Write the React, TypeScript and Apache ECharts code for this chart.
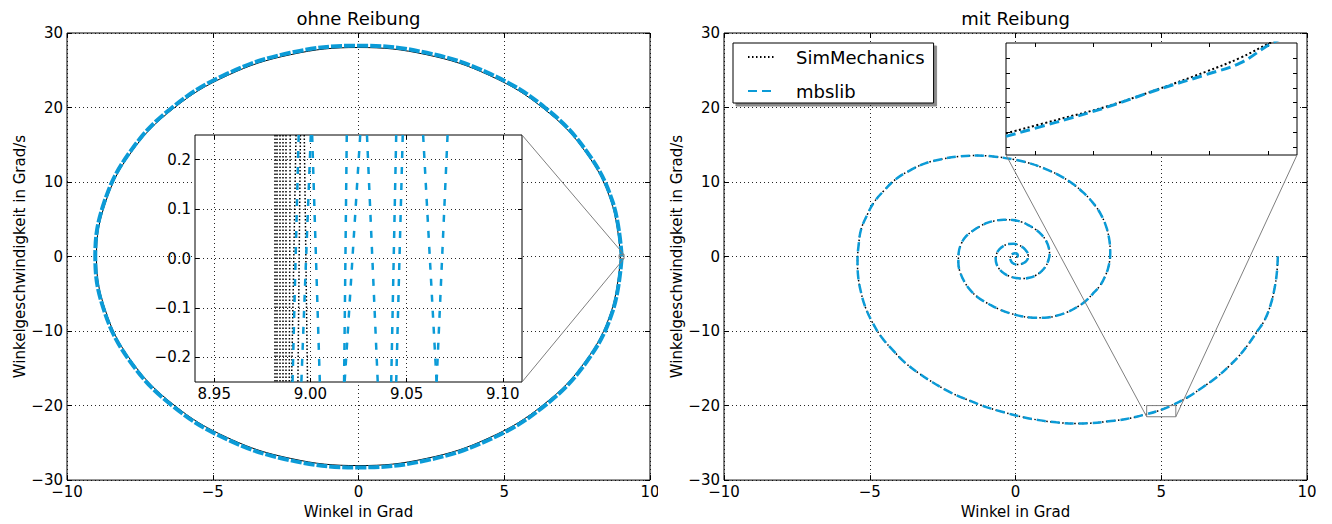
import React, { useEffect, useRef } from "react";
import * as echarts from "echarts";

const FONT = "'DejaVu Sans', sans-serif";
const BLUE = "#0b9bd7";
const GRAY = "#7f7f7f";

const titles = ["ohne Reibung", "mit Reibung"];
const xAxisName = "Winkel in Grad";
const yAxisName = "Winkelgeschwindigkeit in Grad/s";
const seriesNames = ["SimMechanics", "mbslib"];

// main axes
const mainX = { min: -10, max: 10, interval: 5 };
const mainY = { min: -30, max: 30, interval: 10 };

// left: ellipse (ohne Reibung)
const ellipseSim: number[][] = [
  [8.99, 0], [8.68, 7.26], [7.79, 14.03], [6.36, 19.83], [4.5, 24.29], [2.33, 27.09],
  [0, 28.05], [-2.33, 27.09], [-4.5, 24.29], [-6.36, 19.83], [-7.79, 14.03], [-8.68, 7.26],
  [-8.99, 0], [-8.68, -7.26], [-7.79, -14.03], [-6.36, -19.83], [-4.5, -24.29], [-2.33, -27.09],
  [0, -28.05], [2.33, -27.09], [4.5, -24.29], [6.36, -19.83], [7.79, -14.03], [8.68, -7.26],
  [8.99, 0],
];
const ellipseMbs: number[][] = [
  [9.03, 0], [8.72, 7.32], [7.82, 14.15], [6.39, 20.01], [4.52, 24.51], [2.34, 27.34],
  [0, 28.3], [-2.34, 27.34], [-4.52, 24.51], [-6.39, 20.01], [-7.82, 14.15], [-8.72, 7.32],
  [-9.03, 0], [-8.72, -7.32], [-7.82, -14.15], [-6.39, -20.01], [-4.52, -24.51], [-2.34, -27.34],
  [0, -28.3], [2.34, -27.34], [4.52, -24.51], [6.39, -20.01], [7.82, -14.15], [8.72, -7.32],
  [9.03, 0],
];

// right: damped spiral (mit Reibung)
const spiral: number[][] = [
  [9.0, 0], [8.97, -2], [8.9, -4], [8.75, -6.5], [8.55, -8.5], [8.3, -10], [8.0, -11.7],
  [7.7, -13.2], [7.3, -14.8], [6.9, -16.2], [6.4, -17.6], [5.9, -18.9], [5.4, -19.9],
  [4.9, -20.7], [4.4, -21.25], [3.8, -21.8], [3.2, -22.1], [2.6, -22.35], [2.0, -22.4],
  [1.4, -22.25], [0.8, -21.95], [0.2, -21.5], [-0.4, -20.9], [-1.0, -20.2], [-1.6, -19.3],
  [-2.2, -18.3], [-2.75, -17.1], [-3.3, -15.7], [-3.8, -14.2], [-4.2, -12.6], [-4.6, -10.8],
  [-4.9, -8.9], [-5.15, -6.8], [-5.3, -4.8], [-5.4, -2.6], [-5.42, -0.5], [-5.38, 1.6],
  [-5.3, 3.6], [-5.1, 5.5], [-4.85, 7.3], [-4.5, 8.9], [-4.1, 10.4], [-3.6, 11.6],
  [-3.1, 12.5], [-2.5, 13.1], [-1.9, 13.45], [-1.3, 13.55], [-0.7, 13.4], [-0.1, 13.05],
  [0.5, 12.5], [1.0, 11.8], [1.5, 10.9], [1.95, 9.8], [2.35, 8.5], [2.7, 7.0],
  [2.95, 5.5], [3.12, 3.9], [3.22, 2.2], [3.25, 0.5], [3.2, -1.2], [3.08, -2.6],
  [2.9, -3.9], [2.65, -5.0], [2.4, -6.0], [2.1, -6.8], [1.75, -7.5], [1.4, -7.95],
  [1.0, -8.2], [0.6, -8.2], [0.2, -8.0], [-0.2, -7.6], [-0.55, -7.1], [-0.9, -6.4],
  [-1.25, -5.6], [-1.55, -4.5], [-1.75, -3.4], [-1.9, -2.1], [-1.96, -0.8], [-1.95, 0.5],
  [-1.85, 1.8], [-1.7, 2.7], [-1.45, 3.5], [-1.2, 4.1], [-0.95, 4.55], [-0.7, 4.8],
  [-0.4, 4.95], [-0.1, 4.9], [0.2, 4.65], [0.45, 4.2], [0.7, 3.6], [0.9, 2.9],
  [1.05, 2.1], [1.14, 1.2], [1.17, 0.3], [1.12, -0.6], [1.02, -1.4], [0.87, -2.05],
  [0.68, -2.55], [0.47, -2.85], [0.25, -2.95], [0.02, -2.88], [-0.2, -2.65], [-0.4, -2.25],
  [-0.55, -1.7], [-0.65, -1.0], [-0.68, -0.3], [-0.65, 0.35], [-0.56, 0.95], [-0.42, 1.4],
  [-0.25, 1.68], [-0.07, 1.72], [0.1, 1.55], [0.26, 1.2], [0.37, 0.75], [0.43, 0.25],
  [0.42, -0.25], [0.36, -0.65], [0.25, -0.92], [0.12, -1.06], [0.0, -1.05], [-0.1, -0.88],
  [-0.15, -0.62], [-0.18, -0.25], [-0.16, 0.15], [-0.1, 0.35], [-0.02, 0.45], [0.06, 0.35],
  [0.08, 0.12], [0.04, -0.05], [0.0, 0.0],
];

// left inset: zoom near x = 9, y = 0
const leftZoomX = [8.94, 9.11];
const leftZoomY = [-0.25, 0.25];
const leftInsetXTicks = [8.95, 9.0, 9.05, 9.1];
const leftInsetYTicks = [-0.2, -0.1, 0, 0.1, 0.2];
const insetSimTop = [8.9813, 8.9827, 8.9841, 8.9857, 8.9872, 8.9895, 8.9925, 8.9948, 8.9968];
const insetSimBottom = [8.9813, 8.9827, 8.9841, 8.9857, 8.9872, 8.9890, 8.9902, 8.9935, 8.9985];
const insetMbsTop = [8.9939, 9.0009, 9.0002, 9.0189, 9.0259, 9.0294, 9.0446, 9.048, 9.0586, 9.0713];
const insetMbsBottom = [8.9907, 9.0049, 8.9953, 9.0175, 9.0178, 9.035, 9.042, 9.0446, 9.0656, 9.0656];

// right inset: zoom near x = 5, y = -21
const rightZoomX = [4.5, 5.5];
const rightZoomY = [-21.5, -20.0];
const rightInsetXTicks = [4.6, 4.8, 5.0, 5.2, 5.4];
const rightInsetYTicks = [-21.4, -21.2, -21.0, -20.8, -20.6, -20.4, -20.2];
const rightInsetSim: number[][] = [
  [4.5, -21.21], [4.674, -21.03], [4.846, -20.85], [5.018, -20.625], [5.19, -20.38],
  [5.304, -20.2], [5.407, -20.0], [5.5, -19.84],
];
const rightInsetMbs: number[][] = [
  [4.5, -21.25], [4.674, -21.06], [4.846, -20.86], [5.018, -20.63], [5.19, -20.42],
  [5.304, -20.27], [5.419, -19.99], [5.5, -19.87],
];

const fmt = (v: number, d: number) => (v < -1e-9 ? "\u2212" : "") + Math.abs(v).toFixed(d);

const labelStyle = { color: "#000", fontSize: 15, fontFamily: FONT };
const splitStyle = { show: true, lineStyle: { color: "#000", width: 1, type: [1, 3], opacity: 0.85 } };
const tick = (length: number, customValues?: number[]) => ({
  show: true, inside: true, length, lineStyle: { color: "#000", width: 1 },
  ...(customValues ? { customValues } : {}),
});

function makeAxes(
  dir: "x" | "y", gridIndex: number, min: number, max: number,
  opts: { interval?: number; custom?: number[]; labels: boolean; dec: number; split: boolean; name?: string; nameGap?: number; z?: number; tickLen: number }
) {
  const base: any = { type: "value", gridIndex, min, max, z: opts.z ?? 0 };
  if (opts.interval) base.interval = opts.interval;
  const main: any = {
    ...base,
    position: dir === "x" ? "bottom" : "left",
    axisLine: { show: false, onZero: false },
    axisTick: tick(opts.tickLen, opts.custom),
    axisLabel: opts.labels
      ? { ...labelStyle, margin: 4, showMinLabel: true, showMaxLabel: true, hideOverlap: false,
          formatter: (v: number) => fmt(v, opts.dec), ...(opts.custom ? { customValues: opts.custom } : {}) }
      : { show: false },
    splitLine: opts.split ? splitStyle : { show: false },
  };
  if (opts.name) {
    main.name = opts.name;
    main.nameLocation = "middle";
    main.nameGap = opts.nameGap;
    main.nameTextStyle = { ...labelStyle };
  }
  const mirror: any = {
    ...base,
    position: dir === "x" ? "top" : "right",
    axisLine: { show: false, onZero: false },
    axisTick: tick(opts.tickLen, opts.custom),
    axisLabel: { show: false },
    splitLine: { show: false },
  };
  return [main, mirror];
}

export default function App() {
  const ref = useRef<HTMLDivElement>(null);
  useEffect(() => {
    document.body.style.margin = "0";
    if (!ref.current) return;
    const chart = echarts.init(ref.current, undefined, { renderer: "svg" });

    const xAxis = [
      ...makeAxes("x", 0, mainX.min, mainX.max, { interval: mainX.interval, labels: true, dec: 0, split: true, name: xAxisName, nameGap: 22, tickLen: 5 }),
      ...makeAxes("x", 1, mainX.min, mainX.max, { interval: mainX.interval, labels: true, dec: 0, split: true, name: xAxisName, nameGap: 22, tickLen: 5 }),
      ...makeAxes("x", 2, leftZoomX[0], leftZoomX[1], { custom: leftInsetXTicks, labels: true, dec: 2, split: true, z: 6, tickLen: 4 }),
      ...makeAxes("x", 3, rightZoomX[0], rightZoomX[1], { custom: rightInsetXTicks, labels: false, dec: 1, split: false, z: 6, tickLen: 4 }),
    ];
    const yAxis = [
      ...makeAxes("y", 0, mainY.min, mainY.max, { interval: mainY.interval, labels: true, dec: 0, split: true, name: yAxisName, nameGap: 40, tickLen: 5 }),
      ...makeAxes("y", 1, mainY.min, mainY.max, { interval: mainY.interval, labels: true, dec: 0, split: true, name: yAxisName, nameGap: 40, tickLen: 5 }),
      ...makeAxes("y", 2, leftZoomY[0], leftZoomY[1], { custom: leftInsetYTicks, labels: true, dec: 1, split: true, z: 6, tickLen: 4 }),
      ...makeAxes("y", 3, rightZoomY[0], rightZoomY[1], { custom: rightInsetYTicks, labels: false, dec: 1, split: false, z: 6, tickLen: 4 }),
    ];

    const simLine = (width: number, dash: number[]) => ({ color: "#000", width, type: dash });
    const mbsLine = (width: number, dash: number[]) => ({ color: BLUE, width, type: dash });
    const lineSeries = (name: string, xi: number, data: number[][], color: string, lineStyle: any, z: number) => ({
      name, type: "line", xAxisIndex: xi, yAxisIndex: xi, data, smooth: 0.4, symbol: "none", showSymbol: false,
      color, itemStyle: { color }, lineStyle, z, silent: true, clip: true,
    });
    const segs = (tops: number[], bottoms: number[]) =>
      tops.map((t, i) => ({ coords: [[t, leftZoomY[1]], [bottoms[i], leftZoomY[0]]] }));

    const series: any[] = [
      lineSeries(seriesNames[0], 2, spiral, "#000", simLine(1.5, [1.5, 2.5]), 2),
      lineSeries(seriesNames[1], 2, spiral, BLUE, mbsLine(2.5, [9, 5]), 3),
      lineSeries(seriesNames[0], 0, ellipseSim, "#000", simLine(1, [1000, 0]), 2),
      lineSeries(seriesNames[1], 0, ellipseMbs, BLUE, mbsLine(4, [11, 2]), 3),
      {
        name: seriesNames[0], type: "lines", coordinateSystem: "cartesian2d", xAxisIndex: 4, yAxisIndex: 4,
        data: segs(insetSimTop, insetSimBottom), z: 7, silent: true,
        lineStyle: { color: "#000", width: 1.5, type: [1.5, 2], opacity: 1 },
      },
      {
        name: seriesNames[1], type: "lines", coordinateSystem: "cartesian2d", xAxisIndex: 4, yAxisIndex: 4,
        data: segs(insetMbsTop, insetMbsBottom), z: 8, silent: true,
        lineStyle: { color: BLUE, width: 2.5, type: [7, 9], opacity: 1 },
      },
      lineSeries(seriesNames[0], 6, rightInsetSim, "#000", simLine(2, [2, 2.5]), 7),
      lineSeries(seriesNames[1], 6, rightInsetMbs, BLUE, mbsLine(3, [10, 5]), 8),
    ];

    const gridBox = { show: true, borderColor: "#000", borderWidth: 1 };
    chart.setOption({
      animation: false,
      backgroundColor: "#fff",
      title: [
        { text: titles[0], left: 358.5, top: 9, textAlign: "center", padding: 0,
          textStyle: { fontSize: 18, fontWeight: "normal", color: "#000", fontFamily: FONT } },
        { text: titles[1], left: 1015.5, top: 9, textAlign: "center", padding: 0,
          textStyle: { fontSize: 18, fontWeight: "normal", color: "#000", fontFamily: FONT } },
      ],
      legend: {
        data: seriesNames, orient: "vertical", left: 733, top: 43,
        padding: [5, 9, 3, 14], itemWidth: 27, itemHeight: 10, itemGap: 16,
        backgroundColor: "#fff", borderColor: "#000", borderWidth: 1,
        shadowColor: "rgba(0,0,0,0.45)", shadowOffsetX: 3, shadowOffsetY: 3, shadowBlur: 0,
        itemStyle: { opacity: 0, borderWidth: 0 },
        textStyle: { fontSize: 18, fontFamily: FONT, color: "#000", lineHeight: 18, padding: [0, 0, 0, 16] },
        selectedMode: false, z: 4,
      },
      grid: [
        { left: 67, top: 33, width: 583, height: 451, ...gridBox },
        { left: 724, top: 33, width: 583, height: 451, ...gridBox },
        { left: 195, top: 135, width: 327, height: 247, z: 5, backgroundColor: "#fff", ...gridBox },
        { left: 1006, top: 43, width: 291, height: 112, z: 5, backgroundColor: "#fff", ...gridBox },
      ],
      xAxis,
      yAxis,
      series,
    });

    const px = (ai: number, pt: number[]) =>
      chart.convertToPixel({ xAxisIndex: ai, yAxisIndex: ai } as any, pt) as number[];
    const seg = (a: number[], b: number[]) => ({
      type: "line", z: 10, silent: true,
      shape: { x1: a[0], y1: a[1], x2: b[0], y2: b[1] },
      style: { stroke: GRAY, lineWidth: 1 },
    });
    const box = (a: number[], b: number[]) => ({
      type: "rect", z: 10, silent: true,
      shape: { x: Math.min(a[0], b[0]), y: Math.min(a[1], b[1]), width: Math.abs(b[0] - a[0]), height: Math.abs(b[1] - a[1]) },
      style: { fill: "none", stroke: GRAY, lineWidth: 1 },
    });
    const lTL = px(0, [leftZoomX[0], leftZoomY[1]]);
    const lBR = px(0, [leftZoomX[1], leftZoomY[0]]);
    const rTL = px(2, [rightZoomX[0], rightZoomY[1]]);
    const rBR = px(2, [rightZoomX[1], rightZoomY[0]]);
    chart.setOption({
      graphic: [
        box(lTL, lBR),
        seg(px(4, [leftZoomX[1], leftZoomY[1]]), px(0, [leftZoomX[1], leftZoomY[1]])),
        seg(px(4, [leftZoomX[1], leftZoomY[0]]), px(0, [leftZoomX[1], leftZoomY[0]])),
        box(rTL, rBR),
        seg(px(6, [rightZoomX[0], rightZoomY[0]]), px(2, [rightZoomX[0], rightZoomY[0]])),
        seg(px(6, [rightZoomX[1], rightZoomY[0]]), px(2, [rightZoomX[1], rightZoomY[0]])),
        { type: "rect", z: 20, silent: true, shape: { x: 658, y: 486, width: 10, height: 22 }, style: { fill: "#fff" } },
        { type: "rect", z: 20, silent: true, shape: { x: 1316, y: 486, width: 16, height: 22 }, style: { fill: "#fff" } },
      ],
    });

    return () => chart.dispose();
  }, []);
  return <div ref={ref} style={{ width: 1332, height: 524 }} />;
}
